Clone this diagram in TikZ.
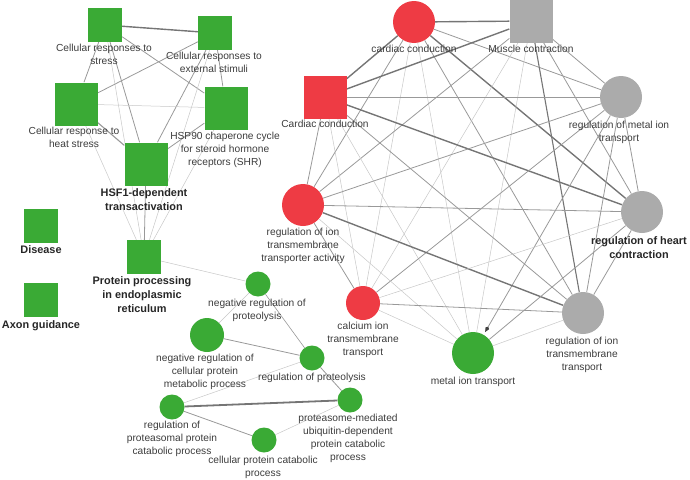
\documentclass[tikz,border=0pt]{standalone}
\usepackage{fontspec}
\setmainfont{Liberation Sans}
\usetikzlibrary{arrows.meta,backgrounds}
\definecolor{ngreen}{RGB}{58,170,53}
\definecolor{nred}{RGB}{238,59,68}
\definecolor{ngray}{RGB}{171,171,171}
\definecolor{ltxt}{RGB}{60,60,60}
\begin{document}
\begin{tikzpicture}[x=1pt,y=-1pt,
 sqsmall/.style={rectangle,draw=none,inner sep=0,minimum size=34pt},
 sqbig/.style={rectangle,draw=none,inner sep=0,minimum size=43pt},
 circsmall/.style={circle,draw=none,inner sep=0,minimum size=25pt},
 circmid/.style={circle,draw=none,inner sep=0,minimum size=34pt},
 circbig/.style={circle,draw=none,inner sep=0,minimum size=42pt},
 lab/.style={anchor=north,inner sep=0,align=center,text=ltxt,font=\fontsize{10.2}{13}\selectfont},
 blab/.style={anchor=north,inner sep=0,align=center,text=black!85,font=\fontsize{10.9}{14.3}\selectfont\bfseries},
 edgeA/.style={draw=black!22,line width=0.5pt},
 edgeB/.style={draw=black!40,line width=0.8pt},
 edgeC/.style={draw=black!54,line width=1.4pt},
]
\useasboundingbox (0,0) rectangle (690,479);
% ---- left cluster ----
\node[sqsmall,fill=ngreen] (S1) at (105,25) {};
\node[sqsmall,fill=ngreen] (S2) at (215,33) {};
\node[sqbig,fill=ngreen] (S3) at (76,104) {};
\node[sqbig,fill=ngreen] (S4) at (226,108) {};
\node[sqbig,fill=ngreen] (S5) at (146,164) {};
\node[sqsmall,fill=ngreen] (P) at (144,257) {};
\node[sqsmall,fill=ngreen] (DI) at (41,226) {};
\node[sqsmall,fill=ngreen] (AX) at (41,300) {};
% ---- bottom cluster ----
\node[circsmall,fill=ngreen] (N1) at (258,284) {};
\node[circmid,fill=ngreen] (N2) at (207,335) {};
\node[circsmall,fill=ngreen] (N3) at (312,358) {};
\node[circsmall,fill=ngreen] (N4) at (172,407) {};
\node[circsmall,fill=ngreen] (N5) at (264,440) {};
\node[circsmall,fill=ngreen] (N6) at (350,400) {};
% ---- right cluster ----
\node[circbig,fill=nred] (A) at (414,22) {};
\node[sqbig,fill=ngray] (B) at (531,21) {};
\node[sqbig,fill=nred] (C) at (325,97) {};
\node[circbig,fill=ngray] (D) at (621,97) {};
\node[circbig,fill=nred] (E) at (303,205) {};
\node[circbig,fill=ngray] (F) at (642,212) {};
\node[circmid,fill=nred] (G) at (363,303) {};
\node[circbig,fill=ngray] (H) at (583,313) {};
\node[circbig,fill=ngreen] (I) at (473,353) {};

\begin{scope}[on background layer]
% left K6
\draw[edgeC] (S1) -- (S2);
\draw[edgeB] (S1) -- (S3);
\draw[edgeB] (S1) -- (S4);
\draw[edgeB] (S1) -- (S5);
\draw[edgeA] (S1) -- (P);
\draw[edgeB] (S2) -- (S3);
\draw[edgeB] (S2) -- (S4);
\draw[edgeB] (S2) -- (S5);
\draw[edgeA] (S2) -- (P);
\draw[edgeA] (S3) -- (S4);
\draw[edgeB,line width=1.1pt] (S3) -- (S5);
\draw[edgeA] (S3) -- (P);
\draw[edgeB] (S4) -- (S5);
\draw[edgeA] (S4) -- (P);
\draw[edgeB] (S5) -- (P);
\draw[edgeA] (P) -- (N1);
% bottom
\draw[edgeA] (N1) -- (N2);
\draw[edgeB,line width=0.6pt] (N1) -- (N3);
\draw[edgeB] (N2) -- (N3);
\draw[edgeA] (N3) -- (N4);
\draw[edgeB] (N3) -- (N6);
\draw[edgeC,line width=1.8pt] (N4) -- (N6);
\draw[edgeB] (N4) -- (N5);
\draw[edgeA] (N5) -- (N6);
% right K9
\draw[edgeC] (A) -- (B);
\draw[edgeC] (A) -- (C);
\draw[edgeB] (A) -- (D);
\draw[edgeB] (A) -- (E);
\draw[edgeC] (A) -- (F);
\draw[edgeA] (A) -- (G);
\draw[edgeB] (A) -- (H);
\draw[edgeA] (A) -- (I);
\draw[edgeC] (B) -- (C);
\draw[edgeB] (B) -- (D);
\draw[edgeB] (B) -- (E);
\draw[edgeB] (B) -- (F);
\draw[edgeA] (B) -- (G);
\draw[edgeC,line width=1.1pt] (B) -- (H);
\draw[edgeA] (B) -- (I);
\draw[edgeB] (C) -- (D);
\draw[edgeB] (C) -- (E);
\draw[edgeC] (C) -- (F);
\draw[edgeA] (C) -- (G);
\draw[edgeB] (C) -- (H);
\draw[edgeA] (C) -- (I);
\draw[edgeB] (D) -- (E);
\draw[edgeB] (D) -- (F);
\draw[edgeB] (D) -- (G);
\draw[edgeB] (D) -- (H);
\draw[edgeB,-{Kite[length=6pt,width=4pt,color=black!75]},shorten >=3pt] (D) -- (I);
\draw[edgeB] (E) -- (F);
\draw[edgeB] (E) -- (G);
\draw[edgeC] (E) -- (H);
\draw[edgeA] (E) -- (I);
\draw[edgeA] (F) -- (G);
\draw[edgeB] (F) -- (H);
\draw[edgeB] (F) -- (I);
\draw[edgeB] (G) -- (H);
\draw[edgeA] (G) -- (I);
\draw[edgeA] (H) -- (I);
\end{scope}

% ---- labels ----
\node[lab] (lS1) at (104,44) {Cellular responses to\\stress};
\node[lab] (lS2) at (214,52) {Cellular responses to\\external stimuli};
\node[lab] (lS3) at (74,127) {Cellular response to\\heat stress};
\node[lab] (lS4) at (225,132) {HSP90 chaperone cycle\\for steroid hormone\\receptors (SHR)};
\node[blab] (lS5) at (144,188) {HSF1-dependent\\transactivation};
\node[blab] (lDI) at (41,245) {Disease};
\node[blab] (lAX) at (41,320) {Axon guidance};
\node[blab] (lP) at (142,276) {Protein processing\\in endoplasmic\\reticulum};
\node[lab] (lN1) at (257,299) {negative regulation of\\proteolysis};
\node[lab] (lN2) at (205,354) {negative regulation of\\cellular protein\\metabolic process};
\node[lab] (lN3) at (312,373) {regulation of proteolysis};
\node[lab] (lN4) at (172,421) {regulation of\\proteasomal protein\\catabolic process};
\node[lab] (lN5) at (263,456) {cellular protein catabolic\\process};
\node[lab] (lN6) at (348,414) {proteasome-mediated\\ubiquitin-dependent\\protein catabolic\\process};
\node[lab] (lA) at (414,45) {cardiac conduction};
\node[lab] (lB) at (531,45) {Muscle contraction};
\node[lab] (lC) at (325,120) {Cardiac conduction};
\node[lab] (lD) at (619,121) {regulation of metal ion\\transport};
\node[lab] (lE) at (303,228) {regulation of ion\\transmembrane\\transporter activity};
\node[blab] (lF) at (639,236) {regulation of heart\\contraction};
\node[lab] (lG) at (363,322) {calcium ion\\transmembrane\\transport};
\node[lab] (lH) at (582,337) {regulation of ion\\transmembrane\\transport};
\node[lab] (lI) at (473,377) {metal ion transport};
\end{tikzpicture}
\end{document}
